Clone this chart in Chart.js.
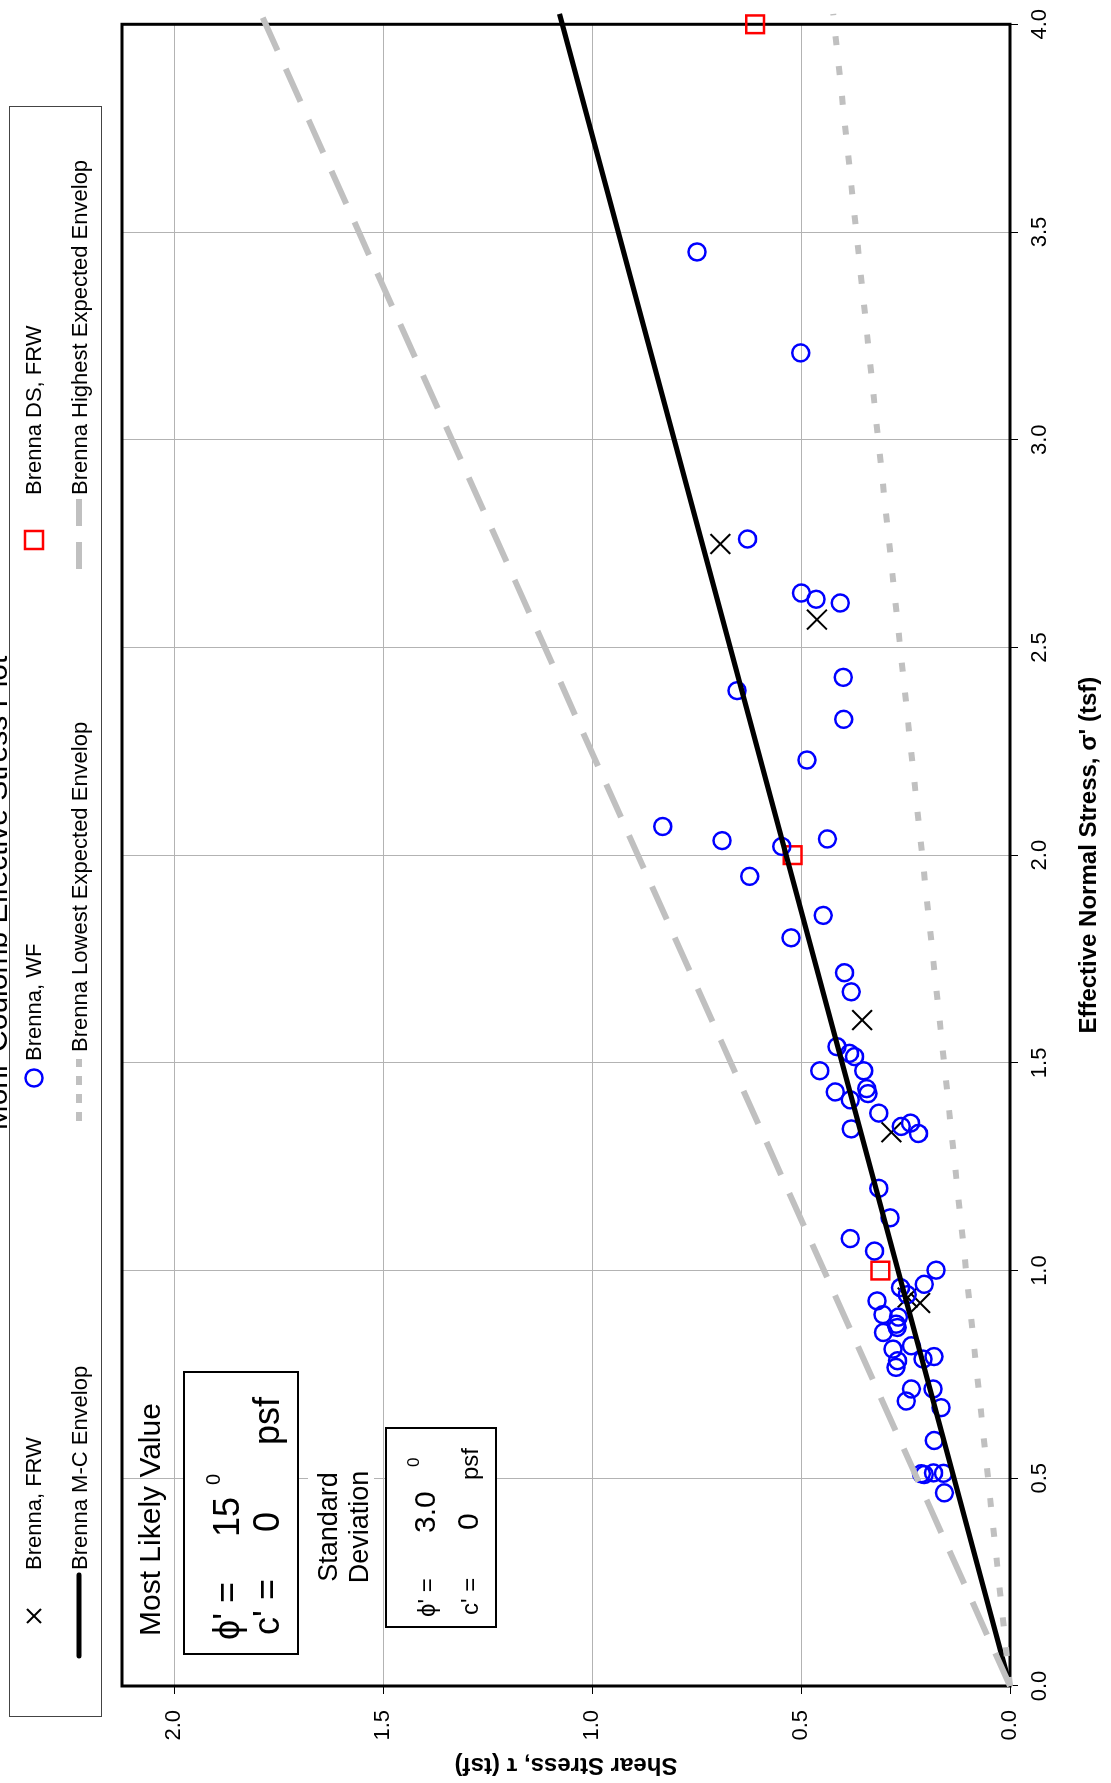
<!DOCTYPE html>
<html>
<head>
<meta charset="utf-8">
<title>Mohr-Coulomb Effective Stress Plot</title>
<script src="https://cdn.jsdelivr.net/npm/chart.js@4.4.1/dist/chart.umd.min.js"></script>
<style>
  html, body { margin: 0; padding: 0; background: #fff; }
  body { width: 1111px; height: 1783px; overflow: hidden; position: relative;
         font-family: "Liberation Sans", Arial, sans-serif; }
  /* the chart is laid out landscape and turned a quarter to the left */
  #stage { position: absolute; left: 0; top: 0; width: 1783px; height: 1111px;
           transform-origin: 0 0; transform: translate(0, 1783px) rotate(-90deg); }
  #chart { position: absolute; left: 0; top: 0; }
  .t { position: absolute; white-space: nowrap; color: #000; line-height: 1; }
  .box { position: absolute; box-sizing: border-box; border: 2px solid #000; background: #fff; }
</style>
</head>
<body>
<div id="stage">
  <canvas id="chart" width="1783" height="1111"></canvas>

  <div class="t" style="left:890px; top:-18px; font-size:30px; transform:translateX(-50%);">Mohr-Coulomb Effective Stress Plot</div>

  <!-- legend -->
  <div class="box" style="left:66px; top:9px; width:1611px; height:93px; border:1px solid #444;"></div>
  <svg style="position:absolute; left:0; top:0;" width="1783" height="110">
    <g stroke="#000" stroke-width="2">
      <line x1="160" y1="27" x2="174" y2="41"/><line x1="160" y1="41" x2="174" y2="27"/>
    </g>
    <circle cx="705" cy="34" r="8.5" fill="none" stroke="#0000ff" stroke-width="2.5"/>
    <rect x="1234" y="25" width="18" height="18" fill="none" stroke="#ff0000" stroke-width="2.5"/>
    <line x1="127" y1="79" x2="208" y2="79" stroke="#000" stroke-width="5" stroke-linecap="round"/>
    <line x1="662" y1="79" x2="724" y2="79" stroke="#c0c0c0" stroke-width="6" stroke-dasharray="9 9"/>
    <line x1="1214" y1="79" x2="1284" y2="79" stroke="#c0c0c0" stroke-width="6" stroke-dasharray="27 16"/>
  </svg>
  <div class="t" style="left:213px; top:23px; font-size:22px;">Brenna, FRW</div>
  <div class="t" style="left:722px; top:23px; font-size:22px;">Brenna, WF</div>
  <div class="t" style="left:1288px; top:23px; font-size:22px;">Brenna DS, FRW</div>
  <div class="t" style="left:213px; top:69px; font-size:22px;">Brenna M-C Envelop</div>
  <div class="t" style="left:731px; top:69px; font-size:22px;">Brenna Lowest Expected Envelop</div>
  <div class="t" style="left:1288px; top:69px; font-size:22px;">Brenna Highest Expected Envelop</div>

  <!-- parameter boxes -->
  <div class="t" style="left:147px; top:135px; font-size:30px;">Most Likely Value</div>
  <div class="box" style="left:128px; top:183px; width:284px; height:116px;"></div>
  <div class="t" style="left:143px; top:209px; font-size:36px;">&#x3D5;' =</div>
  <div class="t" style="left:246px; top:209px; font-size:36px;">15</div>
  <div class="t" style="left:298px; top:203px; font-size:20px;">0</div>
  <div class="t" style="left:148px; top:249px; font-size:36px;">c' =</div>
  <div class="t" style="left:251px; top:249px; font-size:36px;">0</div>
  <div class="t" style="left:338px; top:249px; font-size:36px;">psf</div>

  <div style="position:absolute; left:197px; top:308px; width:120px; height:66px; background:#fff;"></div>
  <div class="t" style="left:256px; top:313px; font-size:27px; transform:translateX(-50%); text-align:center; line-height:31px;">Standard<br>Deviation</div>

  <div class="box" style="left:155px; top:385px; width:201px; height:112px;"></div>
  <div class="t" style="left:166px; top:415px; font-size:24px;">&#x3D5;' =</div>
  <div class="t" style="left:250px; top:410px; font-size:30px;">3.0</div>
  <div class="t" style="left:316px; top:405px; font-size:17px;">0</div>
  <div class="t" style="left:168px; top:458px; font-size:24px;">c' =</div>
  <div class="t" style="left:253px; top:453px; font-size:30px;">0</div>
  <div class="t" style="left:303px; top:458px; font-size:24px;">psf</div>
</div>

<script>
// Brenna, FRW (x markers) - effective normal stress / shear stress, tsf
const frwSigma = [2.749, 2.567, 1.603, 1.333, 0.935, 0.922];
const frwTau   = [0.693, 0.462, 0.354, 0.284, 0.245, 0.215];

// Brenna, WF (circles)
const wfSigma = [3.452, 3.209, 2.761, 2.631, 2.616, 2.607, 2.428, 2.396, 2.327, 2.229,
                 2.069, 2.035, 2.021, 2.039, 1.949, 1.855, 1.801, 1.717, 1.671,
                 1.539, 1.523, 1.515, 1.481, 1.481, 1.430, 1.438, 1.426, 1.411, 1.379,
                 1.347, 1.355, 1.330, 1.341, 1.198, 1.127, 1.077, 1.047, 1.001, 0.967,
                 0.959, 0.942, 0.927, 0.894, 0.888, 0.871, 0.863, 0.851, 0.819, 0.811,
                 0.793, 0.787, 0.783, 0.767, 0.715, 0.715, 0.686, 0.670, 0.591, 0.511,
                 0.509, 0.513, 0.512, 0.465];
const wfTau   = [0.749, 0.501, 0.628, 0.499, 0.464, 0.406, 0.399, 0.653, 0.398, 0.486,
                 0.831, 0.689, 0.546, 0.437, 0.623, 0.447, 0.524, 0.396, 0.380,
                 0.414, 0.384, 0.372, 0.455, 0.350, 0.418, 0.343, 0.340, 0.382, 0.314,
                 0.260, 0.238, 0.219, 0.380, 0.314, 0.287, 0.382, 0.324, 0.177, 0.205,
                 0.262, 0.246, 0.318, 0.304, 0.267, 0.272, 0.270, 0.303, 0.236, 0.280,
                 0.182, 0.208, 0.269, 0.273, 0.236, 0.184, 0.248, 0.165, 0.181, 0.212,
                 0.205, 0.183, 0.159, 0.157];

// Brenna DS, FRW (squares)
const dsSigma = [1.0, 2.0, 4.0];
const dsTau   = [0.31, 0.52, 0.61];

// envelopes (end points)
const envSigma = [0, 4.025];
const mcTau    = [0, 1.078];
const lowTau   = [0, 0.423];
const highTau  = [0, 1.792];

const sigmaTicks = [0, 0.5, 1.0, 1.5, 2.0, 2.5, 3.0, 3.5, 4.0];
const tauTicks   = [0, 0.5, 1.0, 1.5, 2.0];

const pairs = (xs, ys) => xs.map((x, i) => ({ x: x, y: ys[i] }));

Chart.defaults.font.family = '"Liberation Sans", Arial, sans-serif';
Chart.defaults.color = '#000';

// heavy frame round the plot area
const plotFrame = {
    id: 'plotFrame',
    beforeDatasetsDraw(chart) {
        const { ctx, chartArea: a } = chart;
        ctx.save();
        ctx.strokeStyle = '#000';
        ctx.lineWidth = 3;
        ctx.strokeRect(a.left, a.top, a.right - a.left, a.bottom - a.top);
        ctx.restore();
    }
};

const lineSet = (label, data, color, width, dash) => ({
    label: label,
    data: data,
    showLine: true,
    borderColor: color,
    borderWidth: width,
    borderDash: dash,
    borderCapStyle: 'butt',
    pointRadius: 0,
    fill: false,
    clip: false
});

new Chart(document.getElementById('chart'), {
    type: 'scatter',
    data: {
        datasets: [
            lineSet('Brenna Highest Expected Envelop', pairs(envSigma, highTau), '#c0c0c0', 6, [36, 20]),
            lineSet('Brenna Lowest Expected Envelop', pairs(envSigma, lowTau), '#c0c0c0', 6, [9, 21]),
            lineSet('Brenna M-C Envelop', pairs(envSigma, mcTau), '#000', 5, []),
            {
                label: 'Brenna, WF',
                data: pairs(wfSigma, wfTau),
                pointStyle: 'circle',
                pointRadius: 8.5,
                borderColor: '#0000ff',
                backgroundColor: 'rgba(0,0,0,0)',
                borderWidth: 2.5,
                clip: false
            },
            {
                label: 'Brenna, FRW',
                data: pairs(frwSigma, frwTau),
                pointStyle: 'crossRot',
                pointRadius: 14,
                borderColor: '#000',
                borderWidth: 2,
                clip: false
            },
            {
                label: 'Brenna DS, FRW',
                data: pairs(dsSigma, dsTau),
                pointStyle: 'rect',
                pointRadius: 12.5,
                borderColor: '#ff0000',
                backgroundColor: 'rgba(0,0,0,0)',
                borderWidth: 2.5,
                clip: false
            }
        ]
    },
    options: {
        responsive: false,
        animation: false,
        devicePixelRatio: 1,
        layout: { padding: { top: 122, right: 19, left: 0, bottom: 0 } },
        plugins: {
            legend: { display: false },
            tooltip: { enabled: false }
        },
        scales: {
            x: {
                type: 'linear',
                min: 0,
                max: 4,
                afterBuildTicks: (axis) => { axis.ticks = sigmaTicks.map(v => ({ value: v })); },
                afterFit: (axis) => { axis.height = 101; },
                grid: { color: '#b3b3b3', lineWidth: 1, tickColor: '#000', tickLength: 8 },
                border: { display: false },
                ticks: {
                    font: { size: 22 },
                    padding: 9,
                    maxRotation: 0,
                    callback: (v) => Number(v).toFixed(1)
                },
                title: {
                    display: true,
                    text: "Effective Normal Stress, \u03C3' (tsf)",
                    font: { size: 24, weight: 'bold' },
                    padding: { top: 0, bottom: 7 }
                }
            },
            y: {
                type: 'linear',
                min: 0,
                max: 2.125,
                afterBuildTicks: (axis) => { axis.ticks = tauTicks.map(v => ({ value: v })); },
                afterFit: (axis) => { axis.width = 97; },
                grid: { color: '#b3b3b3', lineWidth: 1, tickColor: '#000', tickLength: 8 },
                border: { display: false },
                ticks: {
                    font: { size: 22 },
                    padding: 16,
                    callback: (v) => Number(v).toFixed(1)
                },
                title: {
                    display: true,
                    text: 'Shear Stress, \u03C4 (tsf)',
                    font: { size: 24, weight: 'bold' },
                    padding: { top: 4, bottom: 0 }
                }
            }
        }
    },
    plugins: [plotFrame]
});
</script>
</body>
</html>
